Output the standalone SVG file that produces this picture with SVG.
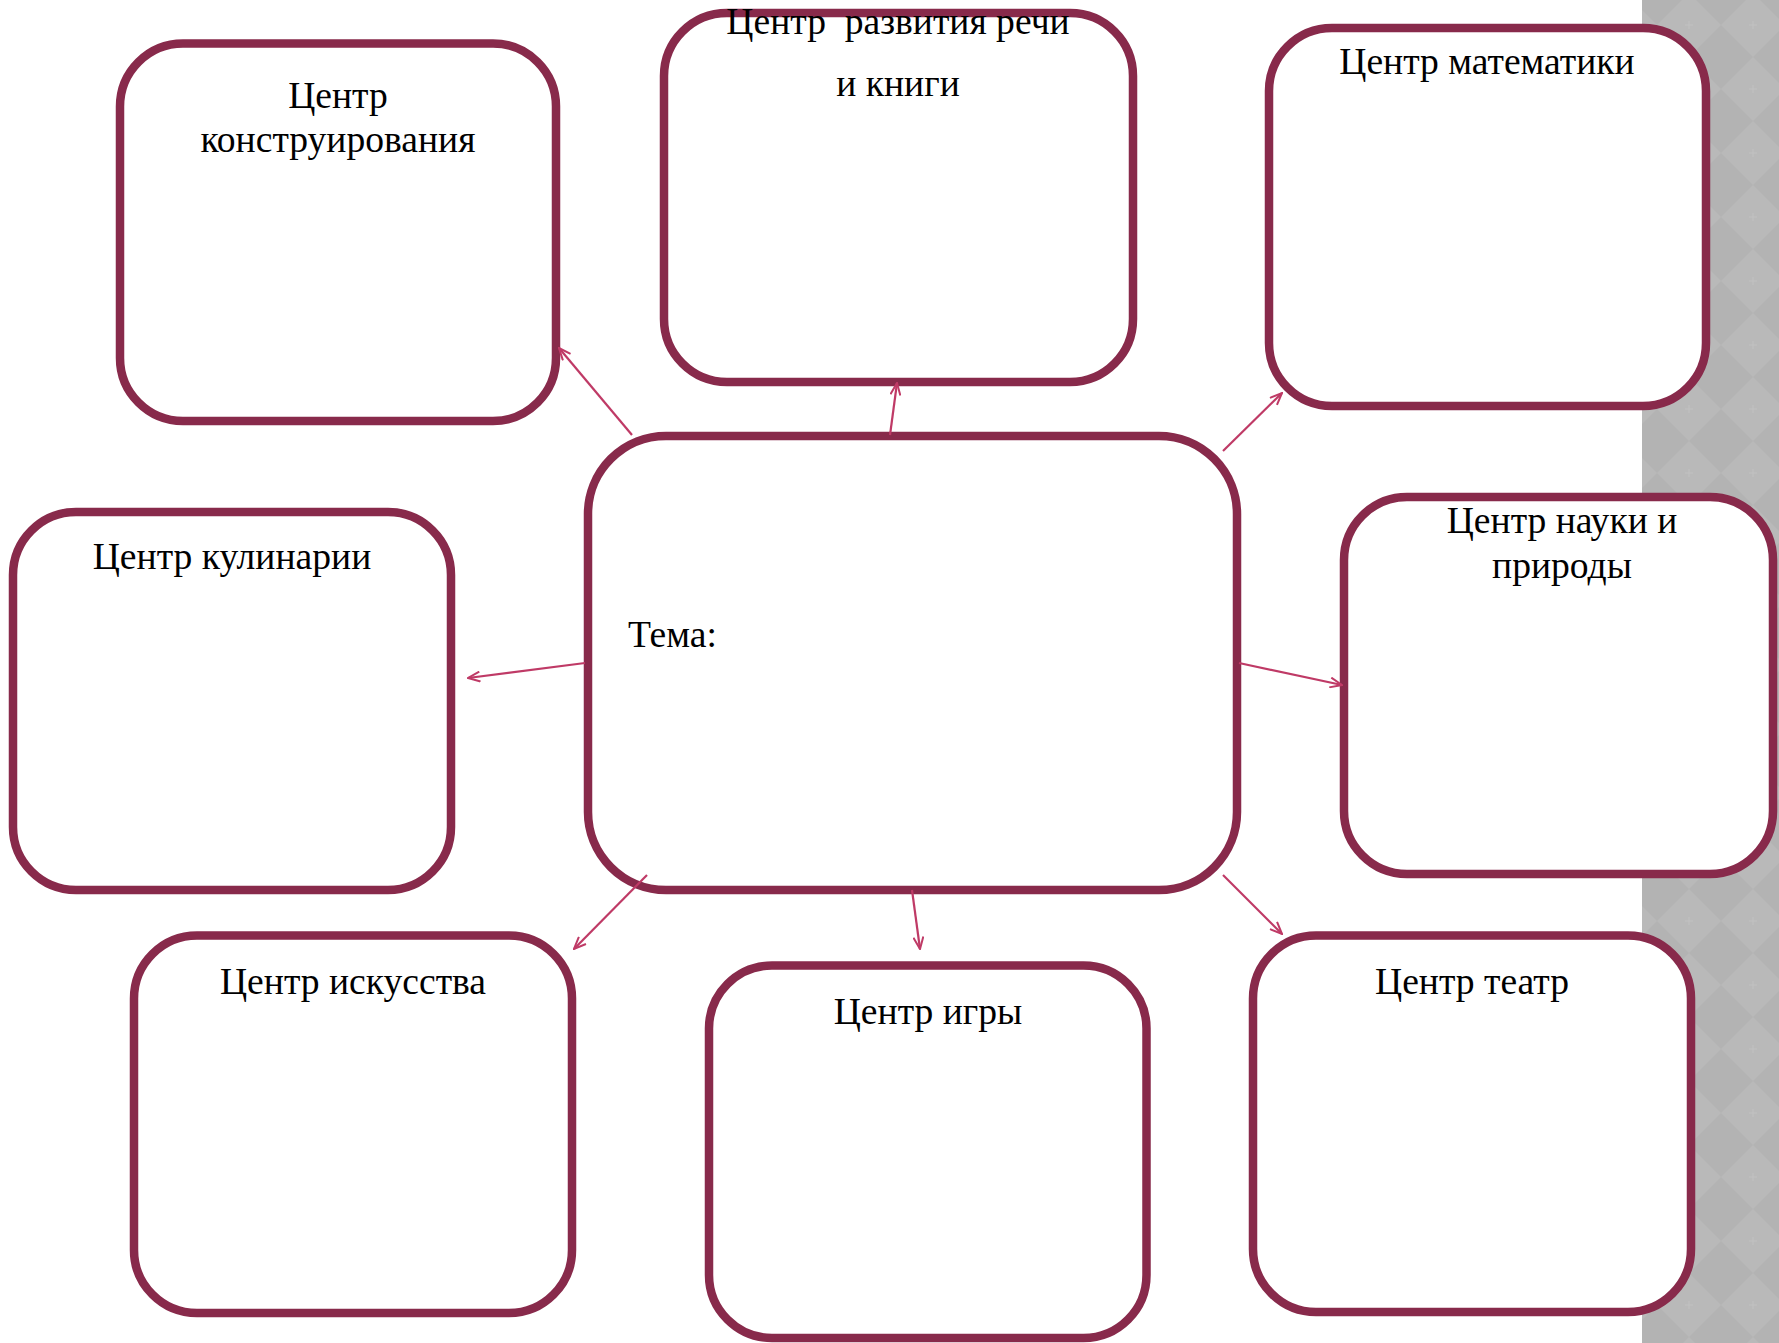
<svg xmlns="http://www.w3.org/2000/svg" width="1779" height="1343" viewBox="0 0 1779 1343">
<style>
.box{fill:#ffffff;stroke:#882a4b;stroke-width:8.5}
.lbl{font-family:"Liberation Serif","Times New Roman",serif;font-size:37.6px;fill:#000000;text-anchor:middle;white-space:pre}
.con{stroke:#bf3a66;stroke-width:2.2;fill:none;marker-end:url(#arr)}
</style>
<defs>
<marker id="arr" viewBox="0 0 14 12" refX="13" refY="6" markerWidth="14" markerHeight="12" markerUnits="userSpaceOnUse" orient="auto">
<path d="M1,1 L13,6 L1,11" fill="none" stroke="#bf3a66" stroke-width="2"/>
</marker>
<pattern id="diam" x="1657" y="-7" width="64" height="64" patternUnits="userSpaceOnUse">
<rect width="64" height="64" fill="#b3b3b3"/>
<polygon points="32,0 64,32 32,64 0,32" fill="#b9b9b9"/>
<path d="M32,28 L32,36 M28,32 L36,32" stroke="#c2c2c2" stroke-width="1"/>
</pattern>
</defs>
<rect x="0" y="0" width="1779" height="1343" fill="#ffffff"/>
<rect x="1642" y="0" width="137" height="1343" fill="url(#diam)"/>

<g id="node-konstr">
<rect class="box" x="120" y="43.5" width="436" height="377.5" rx="63" ry="63"/>
<text class="lbl" x="338" y="108">Центр</text>
<text class="lbl" x="338" y="152">конструирования</text>
</g>

<g id="node-rech">
<rect class="box" x="664" y="13" width="469" height="369" rx="63" ry="63"/>
<text class="lbl" x="898" y="34">Центр  развития речи</text>
<text class="lbl" x="898" y="96">и книги</text>
</g>

<g id="node-math">
<rect class="box" x="1269" y="28" width="437" height="378" rx="63" ry="63"/>
<text class="lbl" x="1487" y="74">Центр математики</text>
</g>

<g id="node-kulin">
<rect class="box" x="13" y="512" width="438" height="378" rx="63" ry="63"/>
<text class="lbl" x="232" y="569">Центр кулинарии</text>
</g>

<g id="node-tema">
<rect class="box" x="588" y="436" width="649" height="454" rx="78" ry="78"/>
<text class="lbl" x="628" y="647" style="text-anchor:start">Тема:</text>
</g>

<g id="node-nauka">
<rect class="box" x="1344" y="497" width="429" height="377" rx="63" ry="63"/>
<text class="lbl" x="1562" y="533">Центр науки и</text>
<text class="lbl" x="1562" y="578">природы</text>
</g>

<g id="node-isk">
<rect class="box" x="134" y="935.5" width="438" height="377.5" rx="63" ry="63"/>
<text class="lbl" x="353" y="994">Центр искусства</text>
</g>

<g id="node-igry">
<rect class="box" x="709" y="965.5" width="437.5" height="372.5" rx="63" ry="63"/>
<text class="lbl" x="928" y="1024">Центр игры</text>
</g>

<g id="node-teatr">
<rect class="box" x="1253" y="935.5" width="438" height="376.5" rx="63" ry="63"/>
<text class="lbl" x="1472" y="994">Центр театр</text>
</g>

<g id="connectors">
<line class="con" x1="632" y1="435" x2="559" y2="348"/>
<line class="con" x1="890" y1="435" x2="897" y2="383"/>
<line class="con" x1="1223" y1="451" x2="1282" y2="393"/>
<line class="con" x1="585" y1="663" x2="468" y2="678"/>
<line class="con" x1="1239" y1="663" x2="1342" y2="685"/>
<line class="con" x1="647" y1="875" x2="574" y2="949"/>
<line class="con" x1="912" y1="890" x2="920" y2="949"/>
<line class="con" x1="1223" y1="875" x2="1282" y2="934"/>
</g>
</svg>
